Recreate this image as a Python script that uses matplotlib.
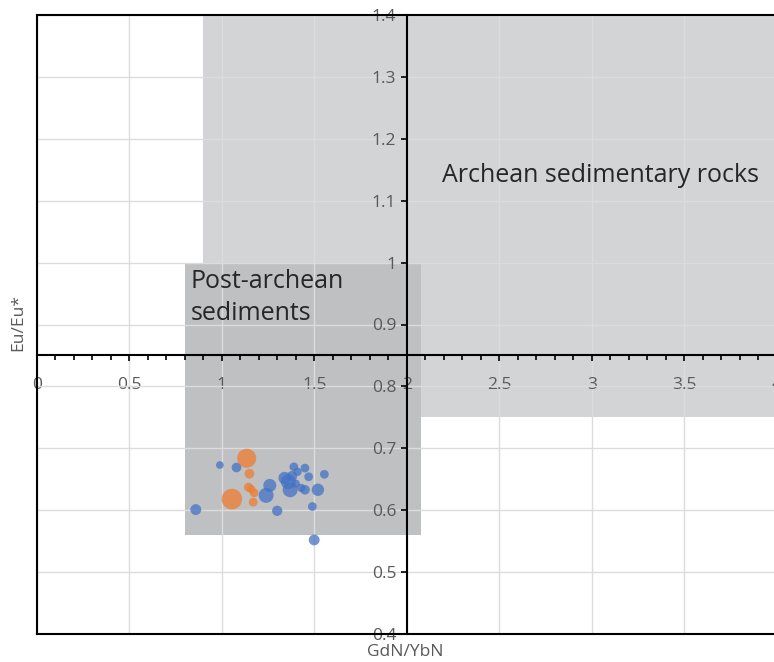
import matplotlib
matplotlib.use("Agg")
import matplotlib.pyplot as plt
from matplotlib.patches import Rectangle
from matplotlib.ticker import MultipleLocator, FuncFormatter

plt.rcParams['font.family'] = ['Open Sans', 'DejaVu Sans']

# bubble data (x = GdN/YbN, y = Eu/Eu*, size = bubble value)
blue_x = [0.86, 0.99, 1.08, 1.26, 1.24, 1.30, 1.36, 1.37, 1.39, 1.41, 1.45,
          1.47, 1.40, 1.43, 1.45, 1.52, 1.555, 1.49, 1.50, 1.38, 1.34]
blue_y = [0.601, 0.673, 0.669, 0.640, 0.624, 0.599, 0.646, 0.633, 0.670, 0.662, 0.668,
          0.654, 0.643, 0.636, 0.633, 0.633, 0.658, 0.606, 0.552, 0.655, 0.652]
blue_size = [28, 14, 22, 40, 53, 25, 53, 53, 18, 16, 18,
             18, 16, 16, 22, 36, 18, 18, 28, 25, 36]

orange_x = [1.135, 1.055, 1.15, 1.145, 1.16, 1.175, 1.17]
orange_y = [0.684, 0.618, 0.659, 0.637, 0.634, 0.628, 0.613]
orange_size = [86, 100, 22, 20, 16, 18, 18]

# fields: (x0, y0, x1, y1)
archean_field = [0.9, 0.75, 4.0, 1.4]
post_archean_field = [0.8, 0.56, 2.08, 1.0]

fig = plt.figure(figsize=(7.74, 6.62), dpi=100)
ax = fig.add_axes([36.7 / 774, 28 / 662, 740 / 774, 619 / 662])
ax.set_xlim(0, 4)
ax.set_ylim(0.4, 1.4)

x0, y0, x1, y1 = archean_field
ax.add_patch(Rectangle((x0, y0), x1 - x0, y1 - y0, fc='#d3d4d6', ec='none', zorder=0.5))
x0, y0, x1, y1 = post_archean_field
ax.add_patch(Rectangle((x0, y0), x1 - x0, y1 - y0, fc='#bfc0c2', ec='none', zorder=0.6))

ax.grid(True, color='#dcdcdc', lw=1.0)

ax.scatter(blue_x, blue_y, s=[2.2 * v for v in blue_size], color='#4472C4',
           alpha=0.75, edgecolors='none', zorder=3)
ax.scatter(orange_x, orange_y, s=[2.2 * v for v in orange_size], color='#ED7D31',
           alpha=0.75, edgecolors='none', zorder=3)

# axes crossing at x=2, y=0.85
ax.spines['left'].set_position(('data', 2))
ax.spines['bottom'].set_position(('data', 0.85))
for sp in ax.spines.values():
    sp.set_linewidth(1.5)
    sp.set_color('black')
ax.plot([0, 0], [0, 1], transform=ax.transAxes, color='black', lw=1.5, clip_on=False, zorder=4)
ax.plot([0, 1], [0, 0], transform=ax.transAxes, color='black', lw=1.5, clip_on=False, zorder=4)

fmt = FuncFormatter(lambda v, p: f'{v:g}')
ax.xaxis.set_major_locator(MultipleLocator(0.5))
ax.xaxis.set_minor_locator(MultipleLocator(0.1))
ax.yaxis.set_major_locator(MultipleLocator(0.1))
ax.xaxis.set_major_formatter(fmt)
ax.yaxis.set_major_formatter(fmt)

ax.tick_params(axis='x', which='major', direction='out', length=4.5, width=1.2,
               pad=11, labelsize=12.5, labelcolor='#595959')
ax.tick_params(axis='x', which='minor', direction='out', length=3.5, width=1.2)
ax.tick_params(axis='y', which='major', direction='out', length=4.5, width=1.2,
               pad=3, labelsize=12.5, labelcolor='#595959')

ax.text(2.19, 1.14, 'Archean sedimentary rocks', fontsize=18, color='#262626', va='center')
ax.text(0.83, 0.99, 'Post-archean\nsediments', fontsize=18, color='#262626', va='top',
        linespacing=1.4)

fig.text(18 / 774, 1 - 322 / 662, 'Eu/Eu*', rotation=90, ha='center', va='center',
         fontsize=12.5, color='#595959')
fig.text(405.5 / 774, 1 - 652 / 662, 'GdN/YbN', ha='center', va='center',
         fontsize=12.5, color='#595959')

fig.savefig('out.png', dpi=100)
